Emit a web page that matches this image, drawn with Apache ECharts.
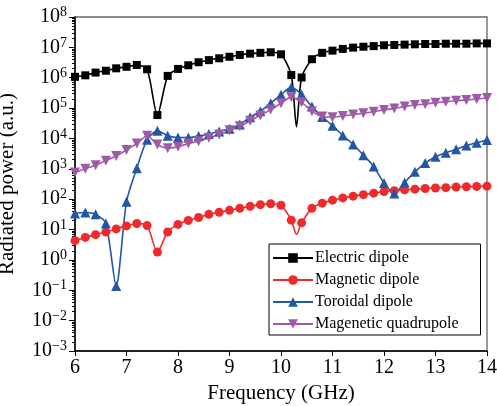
<!DOCTYPE html>
<html><head><meta charset="utf-8">
<script src="https://cdn.jsdelivr.net/npm/echarts@6/dist/echarts.min.js"></script>
<style>html,body{margin:0;padding:0;background:#fff}#c{width:497px;height:406px}</style>
</head><body><div id="c"></div>
<script>
const freq = [6.0,6.2,6.4,6.6,6.8,7.0,7.2,7.4,7.6,7.8,8.0,8.2,8.4,8.6,8.8,9.0,9.2,9.4,9.6,9.8,10.0,10.2,10.4,10.6,10.8,11.0,11.2,11.4,11.6,11.8,12.0,12.2,12.4,12.6,12.8,13.0,13.2,13.4,13.6,13.8,14.0];
const electric = [1.07e6,1.2e6,1.48e6,1.7e6,2.04e6,2.29e6,2.63e6,1.9e6,5.9e4,1.15e6,1.95e6,2.57e6,3.24e6,3.8e6,4.37e6,4.9e6,5.6e6,6.2e6,6.6e6,6.9e6,5.9e6,1.23e6,1.02e6,4.07e6,6.6e6,7.8e6,8.9e6,9.8e6,1.05e7,1.1e7,1.17e7,1.2e7,1.23e7,1.26e7,1.29e7,1.29e7,1.32e7,1.32e7,1.32e7,1.35e7,1.35e7];
const magnetic = [4.3,5.5,6.8,8.3,10.5,13.2,15.8,13.5,1.82,8.3,14.8,20,25,31.6,37,43,50,58,66,71,63,20.4,16.6,50,74,93,110,126,141,158,178,190,204,214,224,234,240,251,257,263,269];
const toroidal = [33.9,36.3,31.6,15.8,0.138,83,1050,9120,17800,12300,10700,10700,12000,14100,17000,20900,28800,50100,79400,1.45e5,2.75e5,4.9e5,2.82e5,1.12e5,51300,26300,12600,6310,2820,1200,339,155,355,794,1550,2510,3390,4370,5890,7240,8910];
const quadrupole = [759,1000,1320,1860,2630,4170,6760,12300,6310,4790,5370,6760,8130,10500,13500,18600,25100,38000,57500,89100,1.45e5,2.29e5,1.55e5,79400,52500,50100,55000,61700,67600,75900,87100,97700,1.12e5,1.26e5,1.35e5,1.51e5,1.62e5,1.74e5,1.86e5,2.0e5,2.14e5];
// unmarked dip points of the finer curves
const electricDip = [10.3, 2.45e4];
const magneticDip = [10.3, 6.9];
const seriesNames = ['Electric dipole','Magnetic dipole','Toroidal dipole','Magenetic quadrupole'];
const yMin = 1e-3, yMax = 1e8;

function build(vals, dip){
  const d = freq.map((f,i)=>[f, vals[i]]);
  if (dip) d.push({value: dip, symbol: 'none'});
  d.sort((a,b)=>((a.value||a)[0])-((b.value||b)[0]));
  return d;
}
const minorVals = [];
for (let e=-3;e<8;e++){ for(let k=2;k<=9;k++){ minorVals.push(k*Math.pow(10,e)); } }
const font = 'Liberation Serif';
const chart = echarts.init(document.getElementById('c'), null, {renderer:'canvas'});
function mk(name, vals, dip, color, symbol, size){
  return {name, type:'line', data: build(vals, dip), symbol, symbolSize:size, smooth:0.25, clip:false,
    lineStyle:{color, width:1.6}, itemStyle:{color}, emphasis:{disabled:true}, z: 3};
}
chart.setOption({
  animation:false,
  textStyle:{fontFamily:font},
  grid:{left:75,right:10,top:17,bottom:55,outerBoundsMode:'none',containLabel:false,show:true,borderColor:'#666',borderWidth:1.3,backgroundColor:'transparent'},
  legend:{orient:'vertical',left:269,top:244,backgroundColor:'#fff',borderColor:'#000',borderWidth:1,
    padding:[6,22,3,3],itemGap:6,itemWidth:40,itemHeight:12,data:seriesNames,
    textStyle:{fontFamily:font,fontSize:16,color:'#000',padding:[0,0,0,-3]}},
  xAxis:{type:'value',min:6,max:14,interval:1,name:'Frequency (GHz)',nameLocation:'middle',nameGap:29,
    nameTextStyle:{fontFamily:font,fontSize:21,color:'#000'},
    axisLine:{lineStyle:{color:'#000',width:1.5}},axisTick:{length:5,lineStyle:{color:'#000'}},
    axisLabel:{fontFamily:font,fontSize:20,color:'#000',margin:7},splitLine:{show:false}},
  yAxis:[{type:'log',logBase:10,min:yMin,max:yMax,interval:1,name:'Radiated power (a.u.)',nameLocation:'middle',nameGap:57,
    nameTextStyle:{fontFamily:font,fontSize:21,color:'#000'},
    axisLine:{show:true,lineStyle:{color:'#000',width:1.5}},axisTick:{length:6,lineStyle:{color:'#000'}},splitLine:{show:false},
    axisLabel:{margin:8,fontFamily:font,fontSize:20,color:'#000',
      formatter:function(v){const e=Math.round(Math.log10(v));return '10{s|'+(e<0?'\u2212'+(-e):e)+'}';},
      rich:{s:{fontFamily:font,fontSize:14,color:'#000',padding:[0,0,9,0]}}}},
    {type:'log',logBase:10,min:yMin,max:yMax,position:'left',
    axisLine:{show:false},axisLabel:{show:false},splitLine:{show:false},
    axisTick:{show:true,length:3,customValues:minorVals,lineStyle:{color:'#000'}}}],
  series:[
    mk(seriesNames[0], electric, electricDip, '#000000','rect',8),
    mk(seriesNames[1], magnetic, magneticDip, '#ee2a2a','circle',9),
    mk(seriesNames[2], toroidal, null, '#2157a6','triangle',10),
    Object.assign(mk(seriesNames[3], quadrupole, null, '#9e5aa6','triangle',10),{symbolRotate:180})
  ]
});
</script></body></html>
